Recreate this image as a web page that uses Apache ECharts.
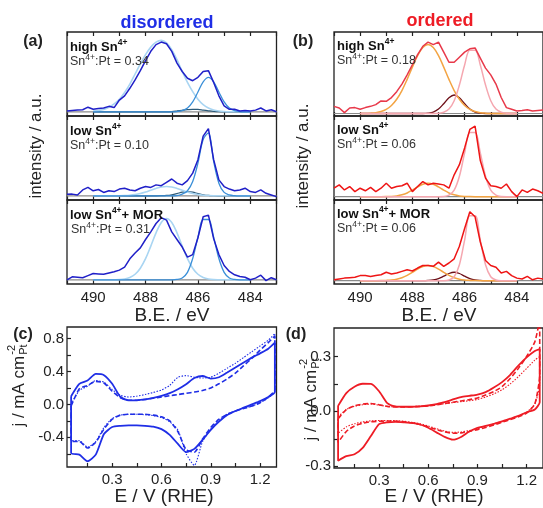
<!DOCTYPE html>
<html><head><meta charset="utf-8">
<script src="https://cdn.jsdelivr.net/npm/echarts@6/dist/echarts.min.js"></script>
<style>html,body{margin:0;padding:0;background:#fff}#c{width:543px;height:508px}</style>
</head><body><div id="c"></div>
<script>
// ---------- XPS data (binding energy in eV, intensity in % of sub-panel height) ----------
const BE = [491.0,490.8,490.6,490.4,490.2,490.0,489.8,489.6,489.4,489.2,489.0,488.8,488.6,488.4,488.2,488.0,487.8,487.6,487.4,487.2,487.0,486.8,486.6,486.4,486.2,486.0,485.8,485.6,485.4,485.2,485.0,484.8,484.6,484.4,484.2,484.0,483.8,483.6,483.4,483.2,483.0];
const BE_FIT = [490.0,489.8,489.6,489.4,489.2,489.0,488.8,488.6,488.4,488.2,488.0,487.8,487.6,487.4,487.2,487.0,486.8,486.6,486.4,486.2,486.0,485.8,485.6,485.4,485.2,485.0,484.8,484.6,484.4,484.2,484.0];
const XPS_TICKS = [483,484,485,486,487,488,489,490,491];
const XPS_LABELS = [484,486,488,490];

// (a) disordered
const a1Meas = [6,6.5,7,7.5,10.5,8,9,9.5,11.5,10,19,24,33,43,54,66,77,85,88,86,77,63,53,45,42,46,53,54,40,24,12,8,8,6,6.5,6,7,9.5,6,7.5,5];
const a1FitLight = [6,6.6,7.9,10.5,14.5,20,28,38,50,62,73,82,88,90,87,79,67,53,40,29,20,13.5,9.5,7.2,6,5.4,5.1,5,5,5,5];
const a1FitMid = [5,5,5,5,5,5,5,5,5,5,5,5,5,5,5,5,5.3,6.3,9.5,16.8,28.6,40.7,46,40.7,28.6,16.8,9.5,6.3,5.3,5,5];
const a1FitDark = [5,5,5,5,5,5,5,5,5,5,5,5,5,5,5,5.3,6,6.8,7.5,8,7.8,7,6.2,5.5,5.1,5,5,5,5,5,5];

const a2Meas = [6.8,7,6,12,15,11,12.5,9,11,10,13,14,12,11,14,16,15,18,17,21,25,20,18,23,32,48,76,85,48,24,16,13,11,12,14,10,9,12,8,6,4];
const a2FitMid = [5,5,5,5,5,5,5,5,5,5,5,5,5,5,5,5,5.2,7,11,22,44,72,80,46,20,9,6,5.2,5,5,5];
const a2FitLight = [5,5,5,5,5,5.1,5.3,5.7,6.5,7.7,9.5,11.7,13.8,15.4,16,15.4,13.8,11.7,9.5,7.7,6.5,5.7,5.3,5.1,5,5,5,5,5,5,5];
const a2FitDark = [5,5,5,5,5,5,5,5,5,5,5,5,5,5.1,5.4,6.2,7.6,9.3,10,9.3,7.6,6.2,5.4,5.1,5,5,5,5,5,5,5];

const a3Meas = [4.8,8.5,8,7.5,10,12.5,12,11.5,13,14.5,16.5,20,30,37,43,53,62,72,79,76,62,53,44,32,35,55,80,82,54,35,22,15,11,9,8,5,7,10.5,4,7.5,5];
const a3FitLight = [5,5,5,5,5.1,5.3,6,7.8,11.6,18.8,30.1,45.1,60.9,73.3,78,73.3,60.9,45.1,30.1,18.8,11.6,7.8,6,5.3,5.1,5,5,5,5,5,5];
const a3FitMid = [5,5,5,5,5,5,5,5,5,5,5,5,5,5,5,5,5.4,7.2,13.9,30.3,55.7,76.8,76.8,55.7,30.3,13.9,7.2,5.4,5,5,5];

// (b) ordered
const b1Meas = [11.5,9.5,4,9.5,10,8,10,11.5,13.5,18,17.5,22,29,38,49,61,73,83,88,85,88,76,64,64,70,76,80,81,69,57,49,38,22,10,8,6,6.5,7.5,6,6.5,7];
const b1FitOrange = [3,3.1,3.4,4,5.3,7.9,12.5,19.9,30.3,43.6,58.2,71.8,81.5,85,81.5,71.8,58.2,43.6,30.3,19.9,12.5,7.9,5.3,4,3.4,3.1,3,3,3,3,3];
const b1FitPink = [3,3,3,3,3,3,3,3,3,3,3,3,3,3,3,3.3,4.4,8.2,18.2,36.9,60.8,78.4,78.4,60.8,36.9,18.2,8.2,4.4,3.3,3,3];
const b1FitDark = [3,3,3,3,3,3,3,3,3,3,3,3,3,3.4,4.7,8.2,14.6,21.7,25,21.7,14.6,8.2,4.7,3.4,3,3,3,3,3,3,3];

const b2Meas = [14,18,12,16,10,14,11,15,10,14,20,14,16,17,20,10,16,22,18,20,19,18,14,30,42,62,84,88,47,26,17,16,14,19,10,4,12,9,13,11,8];
const b2FitPink = [4,4,4,4,4,4,4,4,4,4,4,4,4,4,4,4,4.2,5.7,11.8,28.3,56.1,80.3,80.3,56.1,28.3,11.8,5.7,4.2,4,4,4];
const b2FitOrange = [4,4,4,4,4,4.1,4.3,4.9,6.2,8.4,11.8,15.6,18.8,20,18.8,15.6,11.8,8.4,6.2,4.9,4.3,4.1,4,4,4,4,4,4,4,4,4];

const b3Meas = [5,6,7,7.5,8,10,10,9,10,11,14,12,13,15,17,15.5,19,22,22,21,26,21,25,30,45,66,86,80,50,28,22,20,13,15,10,7,6,9,5,7,6];
const b3FitPink = [4,4,4,4,4,4,4,4,4,4,4,4,4,4,4,4,4,4.7,8.6,22.9,52.3,81.3,81.3,52.3,22.9,8.6,4.7,4,4,4,4];
const b3FitOrange = [4,4,4,4,4.1,4.3,4.7,5.6,7.4,10.2,13.9,17.8,20.8,22,20.8,17.8,13.9,10.2,7.4,5.6,4.7,4.3,4.1,4,4,4,4,4,4,4,4];
const b3FitDark = [4,4,4,4,4,4,4,4,4,4,4,4,4,4.2,4.8,6.4,9.3,12.5,14,12.5,9.3,6.4,4.8,4.2,4,4,4,4,4,4,4];

const baselinesA = [5,5,5];
const baselinesB = [3,4,4];
const ratiosA = ['0.34','0.10','0.31'];
const ratiosB = ['0.18','0.06','0.06'];

// ---------- CV data (E / V vs RHE, j / mA cm^-2) ----------
const cvE_c = [0.05,0.10,0.15,0.20,0.25,0.30,0.35,0.40,0.45,0.50,0.55,0.60,0.65,0.70,0.75,0.80,0.85,0.90,0.95,1.00,1.05,1.10,1.15,1.20,1.25,1.29];
const cSolidAno = [0.10,0.25,0.29,0.37,0.355,0.25,0.09,0.05,0.05,0.06,0.08,0.105,0.137,0.185,0.246,0.32,0.345,0.314,0.33,0.387,0.447,0.508,0.568,0.62,0.677,0.75];
const cSolidCat = [-0.59,-0.61,-0.69,-0.61,-0.36,-0.275,-0.26,-0.255,-0.255,-0.26,-0.27,-0.30,-0.37,-0.48,-0.58,-0.54,-0.43,-0.31,-0.21,-0.13,-0.08,-0.04,0.0,0.04,0.09,0.15];
const cDashAno = [-0.02,0.19,0.23,0.28,0.26,0.16,0.08,0.05,0.05,0.06,0.075,0.09,0.105,0.12,0.135,0.15,0.17,0.20,0.25,0.31,0.38,0.47,0.56,0.66,0.75,0.83];
const cDashCat = [-0.45,-0.45,-0.53,-0.46,-0.30,-0.18,-0.13,-0.12,-0.12,-0.12,-0.13,-0.15,-0.20,-0.33,-0.55,-0.58,-0.42,-0.28,-0.18,-0.12,-0.08,-0.05,-0.02,0.02,0.09,0.18];
const cDotAno = [0.0,0.17,0.22,0.29,0.27,0.18,0.11,0.09,0.10,0.12,0.145,0.175,0.23,0.33,0.35,0.33,0.32,0.33,0.38,0.44,0.50,0.57,0.64,0.71,0.78,0.86];
const cDotCat = [-0.44,-0.44,-0.52,-0.45,-0.28,-0.17,-0.13,-0.12,-0.12,-0.125,-0.135,-0.16,-0.21,-0.31,-0.60,-0.74,-0.45,-0.30,-0.19,-0.12,-0.08,-0.05,-0.02,0.02,0.08,0.16];

const cvE_d = [0.05,0.10,0.15,0.20,0.25,0.30,0.35,0.40,0.45,0.50,0.55,0.60,0.65,0.70,0.75,0.80,0.85,0.90,0.95,1.00,1.05,1.10,1.15,1.20,1.25,1.28];
const dSolidAno = [0.03,0.10,0.135,0.151,0.15,0.11,0.045,0.027,0.025,0.025,0.027,0.032,0.04,0.05,0.065,0.078,0.085,0.092,0.105,0.13,0.16,0.20,0.25,0.295,0.33,0.34];
const dSolidCat = [-0.27,-0.245,-0.235,-0.20,-0.135,-0.07,-0.06,-0.058,-0.06,-0.063,-0.072,-0.09,-0.115,-0.14,-0.155,-0.14,-0.11,-0.09,-0.08,-0.068,-0.055,-0.04,-0.025,-0.005,0.01,0.05];
const dDashAno = [-0.04,0.01,0.03,0.04,0.043,0.036,0.027,0.024,0.024,0.025,0.027,0.03,0.036,0.043,0.05,0.057,0.064,0.073,0.09,0.108,0.135,0.18,0.235,0.30,0.38,0.50];
const dDashCat = [-0.17,-0.11,-0.08,-0.065,-0.057,-0.054,-0.053,-0.054,-0.057,-0.063,-0.072,-0.085,-0.10,-0.112,-0.12,-0.118,-0.11,-0.10,-0.088,-0.075,-0.06,-0.045,-0.03,-0.01,0.04,0.20];
const dDotAno = [-0.03,0.01,0.028,0.036,0.04,0.034,0.027,0.025,0.025,0.026,0.028,0.031,0.036,0.042,0.048,0.053,0.058,0.065,0.078,0.095,0.118,0.15,0.19,0.235,0.28,0.30];
const dDotCat = [-0.12,-0.085,-0.068,-0.058,-0.052,-0.05,-0.05,-0.051,-0.054,-0.06,-0.068,-0.08,-0.095,-0.108,-0.115,-0.113,-0.105,-0.095,-0.082,-0.068,-0.055,-0.04,-0.025,-0.005,0.04,0.15];

const CV_X_TICKS = [0.15,0.3,0.45,0.6,0.75,0.9,1.05,1.2];
const CV_X_LABELS = [0.3,0.6,0.9,1.2];
const CV_C_YTICKS = [-0.6,-0.4,-0.2,0,0.2,0.4,0.6,0.8];
const CV_C_YLABELS = [-0.4,0,0.4,0.8];
const CV_D_YTICKS = [-0.3,-0.15,0,0.15,0.3];
const CV_D_YLABELS = [-0.3,0,0.3];

// ---------- build ----------
const FONT = '"Liberation Sans", Arial, Helvetica, sans-serif';
const BLUE = '#1f2ee6', RED = '#ee1c25';
const grids = [], xAxes = [], yAxes = [], series = [];
const TICK = (vals) => ({show: true, inside: true, length: 4, customValues: vals, lineStyle: {color: '#222', width: 1.2}});

function addXps(left, top, width, height, showLabels, baseline, meas, measColor, fits) {
  const g = grids.length;
  grids.push({left, top, width, height, show: true, borderColor: '#222', borderWidth: 1.3, backgroundColor: 'transparent'});
  const xi = xAxes.length;
  const common = {gridIndex: g, type: 'value', min: 483, max: 491, inverse: true,
    axisLine: {show: false, onZero: false}, splitLine: {show: false}};
  xAxes.push(Object.assign({}, common, {position: 'bottom', axisTick: TICK(XPS_TICKS),
    axisLabel: {show: showLabels, customValues: XPS_LABELS, fontSize: 15, color: '#222', margin: 6, fontFamily: FONT}}));
  xAxes.push(Object.assign({}, common, {position: 'top', axisTick: TICK(XPS_TICKS), axisLabel: {show: false}}));
  const yi = yAxes.length;
  yAxes.push({gridIndex: g, type: 'value', min: 0, max: 100, show: false});
  series.push({type: 'line', xAxisIndex: xi, yAxisIndex: yi, data: [[491, baseline], [483, baseline]],
    symbol: 'none', silent: true, lineStyle: {color: '#8a8a8a', width: 1.2}, z: 2});
  fits.forEach(f => series.push({type: 'line', xAxisIndex: xi, yAxisIndex: yi,
    data: BE_FIT.map((x, i) => [x, f.v[i]]), symbol: 'none', smooth: 0.35, silent: true,
    lineStyle: {color: f.c, width: f.w || 1.3}, z: 3}));
  series.push({type: 'line', xAxisIndex: xi, yAxisIndex: yi, data: BE.map((x, i) => [x, meas[i]]),
    symbol: 'none', silent: true, lineStyle: {color: measColor, width: 1.5}, z: 4});
}

const LXL = 67, LXW = 209.5, RXL = 334, RXW = 211, TOPS = [32, 116, 200], PH = 84;
const LB = '#a9d5f2', MB = '#3a8fd8', DT = '#2d5a78', DB = '#2020c8';
addXps(LXL, TOPS[0], LXW, PH, false, baselinesA[0], a1Meas, DB, [{v: a1FitDark, c: DT}, {v: a1FitLight, c: LB, w: 1.6}, {v: a1FitMid, c: MB}]);
addXps(LXL, TOPS[1], LXW, PH, false, baselinesA[1], a2Meas, DB, [{v: a2FitDark, c: DT}, {v: a2FitLight, c: LB, w: 1.6}, {v: a2FitMid, c: MB}]);
addXps(LXL, TOPS[2], LXW, PH, true, baselinesA[2], a3Meas, DB, [{v: a3FitLight, c: LB, w: 1.6}, {v: a3FitMid, c: MB}]);
const OR = '#f3a443', PK = '#f5a7b0', DR = '#6e1018';
addXps(RXL, TOPS[0], RXW, PH, false, baselinesB[0], b1Meas, '#e8394a', [{v: b1FitDark, c: DR}, {v: b1FitOrange, c: OR, w: 1.5}, {v: b1FitPink, c: PK, w: 1.5}]);
addXps(RXL, TOPS[1], RXW, PH, false, baselinesB[1], b2Meas, '#ee1515', [{v: b2FitOrange, c: OR, w: 1.5}, {v: b2FitPink, c: PK, w: 1.5}]);
addXps(RXL, TOPS[2], RXW, PH, true, baselinesB[2], b3Meas, '#ee1515', [{v: b3FitDark, c: DR}, {v: b3FitOrange, c: OR, w: 1.5}, {v: b3FitPink, c: PK, w: 1.5}]);

function loop(E, ano, cat) {
  const pts = E.map((e, i) => [e, ano[i]]);
  for (let i = E.length - 1; i >= 0; i--) pts.push([E[i], cat[i]]);
  pts.push([E[0], ano[0]]);
  return pts;
}
function addCv(left, top, ymin, ymax, yticks, ylabels, color, traces) {
  const g = grids.length;
  grids.push({left, top, width: 209.5, height: 140, show: true, borderColor: '#222', borderWidth: 1.3, backgroundColor: 'transparent'});
  const xi = xAxes.length;
  xAxes.push({gridIndex: g, type: 'value', min: 0.025, max: 1.3, position: 'bottom',
    axisLine: {show: false, onZero: false}, splitLine: {show: false}, axisTick: TICK(CV_X_TICKS),
    axisLabel: {customValues: CV_X_LABELS, fontSize: 15, color: '#222', margin: 5, fontFamily: FONT, formatter: v => v.toFixed(1)}});
  const yi = yAxes.length;
  yAxes.push({gridIndex: g, type: 'value', min: ymin, max: ymax, position: 'left',
    axisLine: {show: false, onZero: false}, splitLine: {show: false}, axisTick: TICK(yticks),
    axisLabel: {customValues: ylabels, fontSize: 15, color: '#222', margin: 3, fontFamily: FONT, formatter: v => v.toFixed(1)}});
  traces.forEach(t => series.push({type: 'line', xAxisIndex: xi, yAxisIndex: yi, data: t.d, symbol: 'none',
    smooth: 0.2, silent: true, lineStyle: {color, width: t.w, type: t.t}, z: t.z}));
}
addCv(67, 327, -0.76, 0.94, CV_C_YTICKS, CV_C_YLABELS, BLUE, [
  {d: loop(cvE_c, cDotAno, cDotCat), w: 1.1, t: [1.5, 1.5], z: 3},
  {d: loop(cvE_c, cDashAno, cDashCat), w: 1.6, t: [5, 2.5], z: 3},
  {d: loop(cvE_c, cSolidAno, cSolidCat), w: 1.8, t: 'solid', z: 4}]);
addCv(334, 328, -0.31, 0.456, CV_D_YTICKS, CV_D_YLABELS, RED, [
  {d: loop(cvE_d, dDotAno, dDotCat), w: 1.1, t: [1.5, 1.5], z: 3},
  {d: loop(cvE_d, dDashAno, dDashCat), w: 1.6, t: [5, 2.5], z: 3},
  {d: loop(cvE_d, dSolidAno, dSolidCat), w: 1.8, t: 'solid', z: 4}]);

// ---------- texts ----------
function T(x, y, text, size, opts) {
  opts = opts || {};
  return {type: 'text', x, y, rotation: opts.rot || 0, z: 100, silent: true,
    style: {text, fontSize: size, fontFamily: FONT, fontWeight: opts.bold ? 'bold' : 'normal', fill: opts.color || '#222',
      align: opts.align || 'center', verticalAlign: 'middle', textAlign: opts.align || 'center', textVerticalAlign: 'middle', rich: opts.rich}};
}
const rich = {
  b: {fontFamily: FONT, fontWeight: 'bold', fontSize: 13, fill: '#111', lineHeight: 16, verticalAlign: 'bottom'},
  bs: {fontFamily: FONT, fontWeight: 'bold', fontSize: 8.5, fill: '#111', lineHeight: 8, verticalAlign: 'top'},
  n: {fontFamily: FONT, fontSize: 12.5, fill: '#333', lineHeight: 15, verticalAlign: 'bottom'},
  s: {fontFamily: FONT, fontSize: 8.5, fill: '#333', lineHeight: 8, verticalAlign: 'top'}
};
const graphics = [];
const labelsA = ['{b|high Sn}{bs|4+}', '{b|low Sn}{bs|4+}', '{b|low Sn}{bs|4+}{b|+ MOR}'];
[0, 1, 2].forEach(i => {
  graphics.push(T(70, TOPS[i] + 14, labelsA[i], 13, {align: 'left', rich}));
  graphics.push(T(i === 2 ? 71 : 70, TOPS[i] + 29, '{n|Sn}{s|4+}{n|:Pt = ' + ratiosA[i] + '}', 12.5, {align: 'left', rich}));
  graphics.push(T(337, TOPS[i] + 13, labelsA[i], 13, {align: 'left', rich}));
  graphics.push(T(337, TOPS[i] + 28, '{n|Sn}{s|4+}{n|:Pt = ' + ratiosB[i] + '}', 12.5, {align: 'left', rich}));
});
graphics.push(T(167, 23, 'disordered', 18, {bold: true, color: BLUE}));
graphics.push(T(440, 21, 'ordered', 18, {bold: true, color: RED}));
graphics.push(T(33, 42, '(a)', 16, {bold: true}));
graphics.push(T(303, 42, '(b)', 16, {bold: true}));
graphics.push(T(23, 335, '(c)', 16, {bold: true}));
graphics.push(T(296, 335, '(d)', 16, {bold: true}));
graphics.push(T(36, 146, 'intensity / a.u.', 17, {rot: Math.PI / 2}));
graphics.push(T(303, 156, 'intensity / a.u.', 17, {rot: Math.PI / 2}));
graphics.push(T(172, 316, 'B.E. / eV', 19));
graphics.push(T(439, 316, 'B.E. / eV', 19));
graphics.push(T(164, 497, 'E / V (RHE)', 19));
graphics.push(T(434, 497, 'E / V (RHE)', 19));

function jTitle(cx, cy) {
  const c = document.createElement('canvas').getContext('2d');
  c.font = '17px ' + FONT;
  const wm = c.measureText('j / mA cm').width;
  c.font = '11px ' + FONT;
  const ws = c.measureText('Pt').width;
  const x0 = -(wm + ws) / 2;
  const st = (text, size, x, y) => ({type: 'text', x, y, silent: true,
    style: {text, fontSize: size, fontFamily: FONT, fill: '#222', align: 'left', verticalAlign: 'middle', textAlign: 'left', textVerticalAlign: 'middle'}});
  return {type: 'group', x: cx, y: cy, rotation: Math.PI / 2, z: 100, children: [
    st('j / mA cm', 17, x0, 0), st('-2', 11, x0 + wm + 1, -7), st('Pt', 11, x0 + wm + 1, 5)]};
}
graphics.push(jTitle(19, 386));
graphics.push(jTitle(311, 400));

const chart = echarts.init(document.getElementById('c'), null, {renderer: 'canvas'});
chart.setOption({animation: false, backgroundColor: '#fff', grid: grids, xAxis: xAxes, yAxis: yAxes, series, graphic: graphics});
</script></body></html>
